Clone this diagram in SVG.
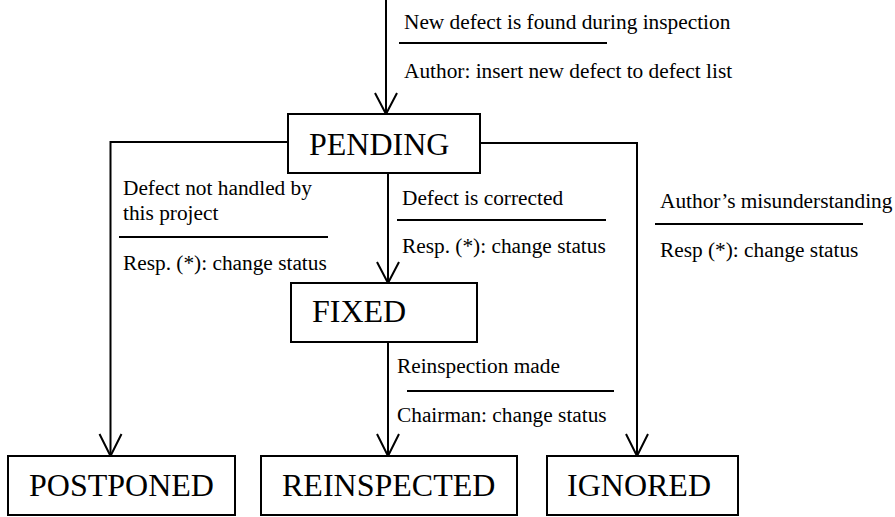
<svg xmlns="http://www.w3.org/2000/svg" width="895" height="517" viewBox="0 0 895 517">
  <style>
    .box { fill: #fff; stroke: #000; stroke-width: 2; }
    .state { font-family: "Liberation Serif", "Times New Roman", serif; font-size: 32px; fill: #000; }
    .lbl { font-family: "Liberation Serif", "Times New Roman", serif; font-size: 21.33px; fill: #000; }
    .edge { fill: none; stroke: #000; stroke-width: 2; }
    .sep { stroke: #000; stroke-width: 2; }
  </style>
  <rect width="895" height="517" fill="#fff"/>

  <!-- transitions -->
  <g id="connectors">
    <path class="edge" d="M386,0 V113"/>
    <path class="edge" d="M288,142 H110.5 V455"/>
    <path class="edge" d="M388,173 V282"/>
    <path class="edge" d="M480,143 H637 V455"/>
    <path class="edge" d="M388,342 V455"/>
    <!-- open arrowheads -->
    <path class="edge" d="M375,93 L386,114 L397,93"/>
    <path class="edge" d="M99.5,434 L110.5,456 L121.5,434"/>
    <path class="edge" d="M377,262 L388,283 L399,262"/>
    <path class="edge" d="M626,434 L637,456 L648,434"/>
    <path class="edge" d="M377,434 L388,456 L399,434"/>

    <!-- transition labels: event / action -->
    <g id="label-new">
      <text class="lbl" x="404" y="29">New defect is found during inspection</text>
      <line class="sep" x1="399" y1="43" x2="607" y2="43"/>
      <text class="lbl" x="404" y="78">Author: insert new defect to defect list</text>
    </g>
    <g id="label-postponed">
      <text class="lbl" x="123" y="195">Defect not handled by</text>
      <text class="lbl" x="123" y="220">this project</text>
      <line class="sep" x1="119" y1="237" x2="328" y2="237"/>
      <text class="lbl" x="123" y="270">Resp. (*): change status</text>
    </g>
    <g id="label-fixed">
      <text class="lbl" x="402" y="205">Defect is corrected</text>
      <line class="sep" x1="397" y1="220" x2="606" y2="220"/>
      <text class="lbl" x="402" y="253">Resp. (*): change status</text>
    </g>
    <g id="label-ignored">
      <text class="lbl" x="660" y="208">Author’s misunderstanding</text>
      <line class="sep" x1="655" y1="224" x2="863" y2="224"/>
      <text class="lbl" x="660" y="257">Resp (*): change status</text>
    </g>
    <g id="label-reinspected">
      <text class="lbl" x="397" y="373">Reinspection made</text>
      <line class="sep" x1="407" y1="391" x2="614" y2="391"/>
      <text class="lbl" x="397" y="422">Chairman: change status</text>
    </g>
  </g>

  <g id="pending">
    <rect class="box" x="288" y="114" width="192" height="59"/>
    <text class="state" x="309" y="155">PENDING</text>
  </g>
  <g id="fixed">
    <rect class="box" x="291" y="283" width="186" height="59"/>
    <text class="state" x="312" y="322">FIXED</text>
  </g>
  <g id="postponed">
    <rect class="box" x="8" y="456" width="227" height="59"/>
    <text class="state" x="29" y="496">POSTPONED</text>
  </g>
  <g id="reinspected">
    <rect class="box" x="261" y="456" width="256" height="59"/>
    <text class="state" x="282" y="496">REINSPECTED</text>
  </g>
  <g id="ignored">
    <rect class="box" x="547" y="456" width="191" height="59"/>
    <text class="state" x="567" y="496">IGNORED</text>
  </g>
</svg>
